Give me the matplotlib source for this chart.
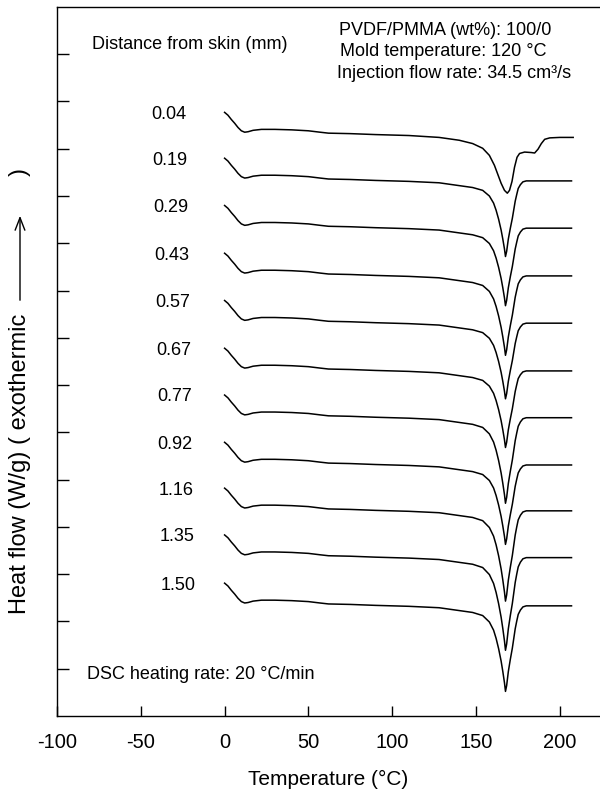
import numpy as np
import matplotlib.pyplot as plt

plt.rcParams['font.family'] = ['Liberation Sans', 'DejaVu Sans']

# common temperature grid for the traces (deg C)
temp = [0, 2, 4, 6, 8, 10, 12, 14, 17, 22,
        30, 40, 50, 57, 62, 75, 90, 110, 128, 140,
        148, 154, 158, 160.5, 162, 163.5, 165, 166, 167, 167.6,
        168.3, 169.3, 170.5, 171.7, 172.6, 173.4, 174.3, 175.2, 176.5, 178,
        180, 185, 195, 207]

# baseline drop below the starting level (W/g)
base_drop = [0, 0.06, 0.15, 0.23, 0.32, 0.39, 0.42, 0.41, 0.38, 0.36,
             0.36, 0.37, 0.39, 0.42, 0.44, 0.45, 0.47, 0.49, 0.52, 0.58,
             0.62, 0.64, 0.64, 0.63, 0.62, 0.61, 0.60, 0.59, 0.58, 0.58,
             0.57, 0.56, 0.55, 0.53, 0.52, 0.51, 0.51, 0.49, 0.49, 0.48,
             0.48, 0.48, 0.48, 0.48]

# melting endotherm of a typical trace (W/g)
peak_drop = [0] * 21 + [0.04, 0.16, 0.32, 0.48, 0.68, 0.92, 1.12, 1.34, 1.50,
                        1.40, 1.15, 0.93, 0.74, 0.56, 0.40, 0.26, 0.15, 0.07, 0.02,
                        0, 0, 0, 0]

# the 0.04 mm trace has its own shape (shoulder near 185 C)
temp_skin = [0, 2, 4, 6, 8, 10, 12, 14, 17, 22,
             30, 40, 50, 57, 62, 75, 90, 110, 128, 140,
             148, 154, 158, 161, 163, 165, 167, 168.7, 170, 171.5,
             173, 174.5, 176, 179, 183, 185, 187, 189, 191, 194,
             200, 208]
drop_skin = [0, 0.06, 0.15, 0.23, 0.32, 0.39, 0.42, 0.41, 0.38, 0.36,
             0.36, 0.37, 0.39, 0.42, 0.44, 0.45, 0.47, 0.49, 0.53, 0.59,
             0.66, 0.76, 0.91, 1.12, 1.31, 1.50, 1.65, 1.71, 1.65, 1.46,
             1.16, 0.95, 0.87, 0.84, 0.85, 0.86, 0.78, 0.66, 0.57, 0.54,
             0.53, 0.53]

distances = ['0.04', '0.19', '0.29', '0.43', '0.57', '0.67',
             '0.77', '0.92', '1.16', '1.35', '1.50']
start_level = [12.77, 11.80, 10.80, 9.79, 8.79, 7.78, 6.79, 5.79, 4.82, 3.83, 2.81]
peak_depth = [1.71, 1.50, 1.54, 1.58, 1.50, 1.52, 1.71, 1.58, 1.81, 1.86, 1.71]

x_ticks = [-100, -50, 0, 50, 100, 150, 200]
y_ticks = list(range(1, 15))

fig = plt.figure(figsize=(6, 7.9), dpi=100)
ax = fig.add_axes([0.095, 0.0937, 0.905, 0.8975])

base = np.array(base_drop)
peak = np.array(peak_drop)
for i, lab in enumerate(distances):
    if i == 0:
        y = start_level[i] - np.array(drop_skin)
        ax.plot(temp_skin, y, color='black', lw=1.1)
    else:
        y = start_level[i] - base - peak * peak_depth[i] / max(peak_drop)
        ax.plot(temp, y, color='black', lw=1.1)
    ax.text(-33 + 0.5 * i, start_level[i] - 0.04, lab, ha='center', va='center',
            fontsize=13)

ax.set_xlim(-100, 224)
ax.set_ylim(0, 15)
ax.set_xticks(x_ticks)
ax.set_xticklabels([str(t) for t in x_ticks], fontsize=14.5)
ax.set_yticks(y_ticks)
ax.set_yticklabels([])
ax.tick_params(axis='x', direction='in', length=7, width=1, pad=12)
ax.tick_params(axis='y', direction='in', length=8.5, width=1)
ax.spines['right'].set_visible(False)
for s in ['left', 'bottom', 'top']:
    ax.spines[s].set_linewidth(1.0)

ax.set_xlabel('Temperature (°C)', fontsize=15, labelpad=13)

ax.text(-79, 14.2, 'Distance from skin (mm)', fontsize=13, va='center', ha='left')
ax.text(68, 14.5, 'PVDF/PMMA (wt%): 100/0', fontsize=13, va='center', ha='left')
ax.text(69, 14.05, 'Mold temperature: 120 °C', fontsize=13, va='center', ha='left')
ax.text(67, 13.6, 'Injection flow rate: 34.5 cm³/s', fontsize=13, va='center', ha='left')
ax.text(-82, 0.88, 'DSC heating rate: 20 °C/min', fontsize=13, va='center', ha='left')

# y label with the long arrow
fx = 20 / 600
fig.text(fx, (790 - 614) / 790, 'Heat flow (W/g) ( exothermic', rotation=90,
         ha='center', va='bottom', fontsize=17)
fig.text(fx, (790 - 172) / 790, ')', rotation=90, ha='center', va='center',
         fontsize=17)
ax.annotate('', xy=(fx, (790 - 213) / 790), xytext=(fx, (790 - 303) / 790),
            xycoords='figure fraction', textcoords='figure fraction',
            arrowprops=dict(arrowstyle='->,head_length=0.9,head_width=0.35',
                            color='black', lw=1.0))

fig.savefig('out.png', dpi=100)
